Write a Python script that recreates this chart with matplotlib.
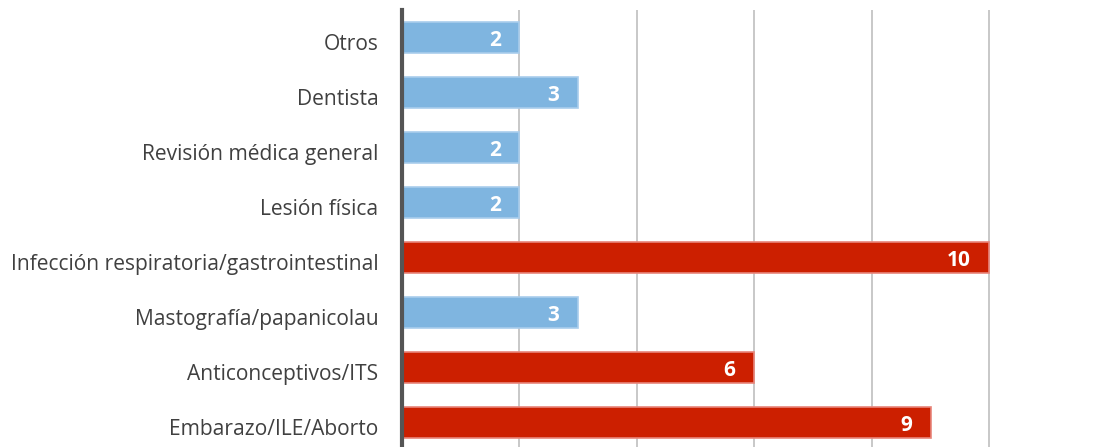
import matplotlib
matplotlib.use("Agg")
import matplotlib.pyplot as plt
import matplotlib.transforms as mtransforms

categories = ["Otros", "Dentista", "Revisión médica general", "Lesión física",
              "Infección respiratoria/gastrointestinal", "Mastografía/papanicolau",
              "Anticonceptivos/ITS", "Embarazo/ILE/Aborto"]
values = [2, 3, 2, 2, 10, 3, 6, 9]
highlight = [False, False, False, False, True, False, True, True]

plt.rcParams['font.family'] = ['Open Sans', 'DejaVu Sans']

fig = plt.figure(figsize=(10.95, 4.47), dpi=100)
ax = fig.add_axes([402 / 1095, -3 / 447, 693 / 1095, 440 / 447])

ypos = list(range(len(categories)))
colors = ["#CC1F00" if h else "#7FB5E0" for h in highlight]
edges = ["#E8857A" if h else "#A9CDEC" for h in highlight]
bars = ax.barh(ypos, values, height=0.58, color=colors, edgecolor=edges, linewidth=1.2, zorder=3)

for b, v in zip(bars, values):
    ax.text(b.get_width() - 0.32, b.get_y() + b.get_height() / 2 + 0.05, str(v),
            ha="right", va="center", color="white", fontsize=15, fontweight="bold", zorder=4)

ax.set_yticks(ypos)
ax.set_yticklabels(categories, fontsize=15.1, color="#404040")
ax.set_ylim(len(categories) - 0.5, -0.5)
ax.set_xlim(0, 11.8)
ax.set_xticks([2, 4, 6, 8, 10])
ax.tick_params(axis="x", length=0, labelbottom=False)
ax.tick_params(axis="y", length=0, pad=17)
ax.grid(axis="x", color="#C4C4C4", linewidth=1.3, zorder=0)
for s in ["top", "right", "bottom"]:
    ax.spines[s].set_visible(False)
ax.spines["left"].set_color("#555555")
ax.spines["left"].set_linewidth(3)
ax.spines["left"].set_zorder(5)

# nudge labels a little lower, like the original
shift = mtransforms.ScaledTranslation(0, -3 / 72, fig.dpi_scale_trans)
for lbl in ax.get_yticklabels():
    lbl.set_transform(lbl.get_transform() + shift)

fig.savefig("out.png", dpi=100)
